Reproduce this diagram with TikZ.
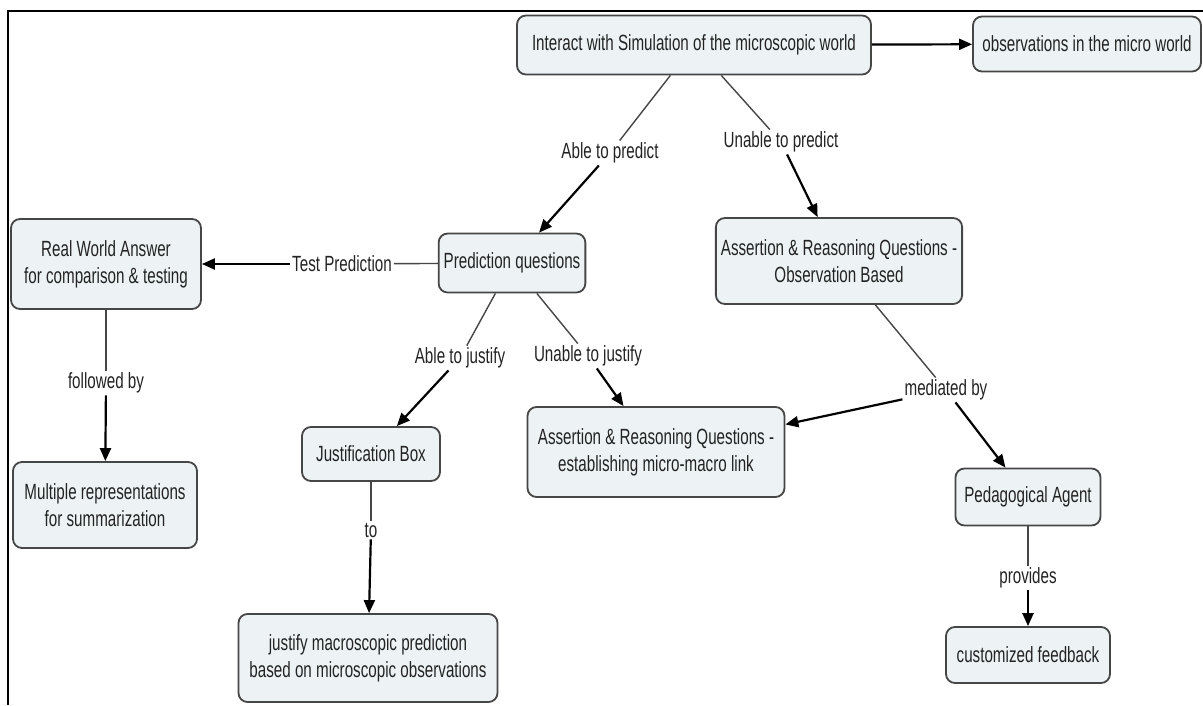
\documentclass[tikz,border=0pt]{standalone}
\usepackage{fontspec}
\setmainfont[FakeStretch=0.69]{Liberation Sans}
\usetikzlibrary{arrows.meta}
\definecolor{boxfill}{RGB}{237,242,245}
\definecolor{boxline}{RGB}{70,70,70}
\definecolor{txt}{RGB}{35,35,35}
\begin{document}
\begin{tikzpicture}[x=1pt,y=-1pt,
  concept/.style={draw=boxline,line width=1.8pt,fill=boxfill,rounded corners=9pt,align=center,text=txt,font=\fontsize{22}{27}\selectfont,inner xsep=5pt,inner ysep=0pt},
  linkname/.style={text=txt,font=\fontsize{22}{27}\selectfont,inner sep=2pt},
  plain/.style={draw=gray!55!black,line width=1.4pt},
  toarrow/.style={draw=black,line width=2.2pt,-{Triangle[length=13pt,width=11pt]}}]
\useasboundingbox (0,0) rectangle (1203,705);
\fill[white] (0,0) rectangle (1203,705);
\draw[line width=2.5pt] (8,705) -- (8,11) -- (1203,11);
\node[concept,minimum width=354,minimum height=59] (sim) at (694,45) {Interact with Simulation of the microscopic world};
\node[concept,minimum width=228,minimum height=55] (obs) at (1087,44) {observations in the micro world};
\node[concept,minimum width=190,minimum height=90] (real) at (106,264) {Real World Answer\\for comparison \& testing};
\node[concept,minimum width=131,minimum height=59] (pred) at (512,263) {Prediction questions};
\node[concept,minimum width=221,minimum height=86] (aro) at (839,261) {Assertion \& Reasoning Questions -\\Observation Based};
\node[concept,minimum width=184,minimum height=86] (multi) at (105,505) {Multiple representations\\for summarization};
\node[concept,minimum width=138,minimum height=54] (just) at (371,454) {Justification Box};
\node[concept,minimum width=257,minimum height=90] (armm) at (656,452) {Assertion \& Reasoning Questions -\\establishing micro-macro link};
\node[concept,minimum width=145,minimum height=57] (ped) at (1028,497) {Pedagogical Agent};
\node[concept,minimum width=259,minimum height=88] (jmac) at (368,658) {justify macroscopic prediction\\based on microscopic observations};
\node[concept,minimum width=164,minimum height=56] (feed) at (1028,655) {customized feedback};
\node[linkname] (lpred) at (610,153) {Able to predict};
\node[linkname] (lunpred) at (781,142) {Unable to predict};
\node[linkname] (ltest) at (342,264) {Test Prediction};
\node[linkname] (lfol) at (106,383) {followed by};
\node[linkname] (ljust) at (460,358) {Able to justify};
\node[linkname] (lunjust) at (588,356) {Unable to justify};
\node[linkname] (lmed) at (946,390) {mediated by};
\node[linkname] (lto) at (371,530) {to};
\node[linkname] (lprov) at (1028,578) {provides};
\draw[toarrow] (sim) -- (obs);
\draw[plain] (sim) -- (lpred);
\draw[toarrow] (lpred) -- (pred);
\draw[plain] (sim) -- (lunpred);
\draw[toarrow] (lunpred) -- (aro);
\draw[plain] (pred) -- (ltest);
\draw[toarrow] (ltest) -- (real);
\draw[plain] (real) -- (lfol);
\draw[toarrow] (lfol) -- (multi);
\draw[plain] (pred) -- (ljust);
\draw[toarrow] (ljust) -- (just);
\draw[plain] (pred) -- (lunjust);
\draw[toarrow] (lunjust) -- (armm);
\draw[plain] (aro) -- (lmed);
\draw[toarrow] (lmed) -- (armm);
\draw[toarrow] (lmed) -- (ped);
\draw[plain] (just) -- (lto);
\draw[toarrow] (lto) -- (jmac);
\draw[plain] (ped) -- (lprov);
\draw[toarrow] (lprov) -- (feed);
\end{tikzpicture}
\end{document}
